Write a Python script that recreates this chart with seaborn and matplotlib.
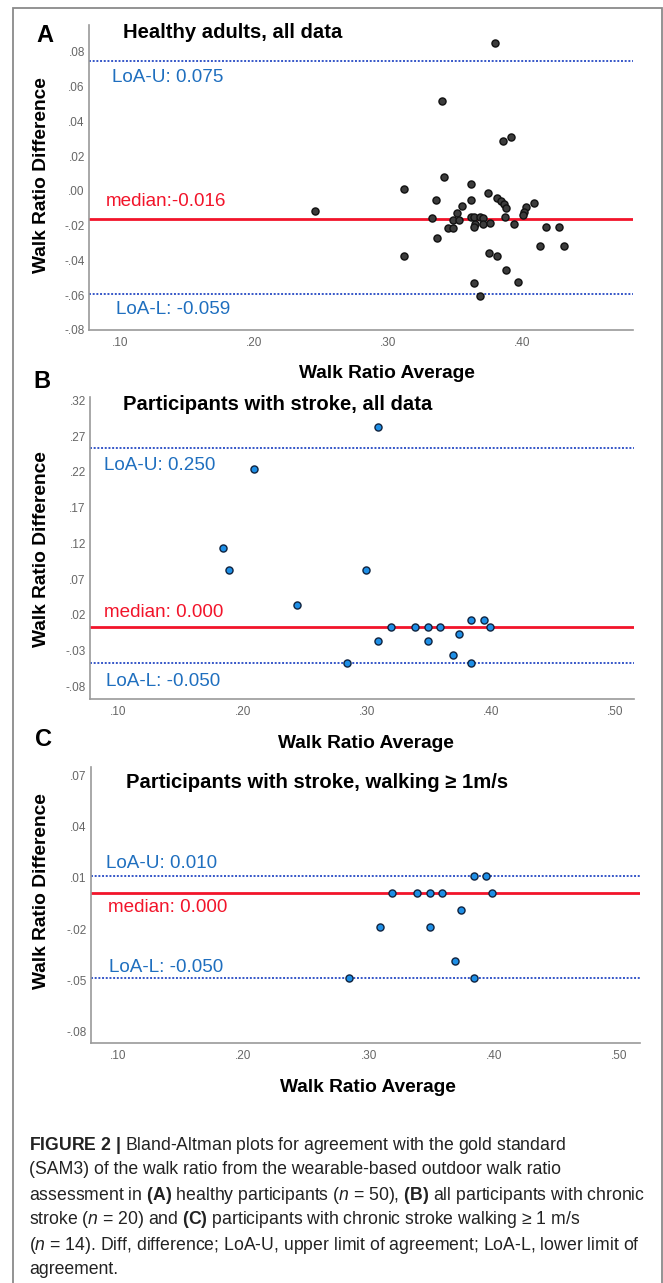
import matplotlib
matplotlib.use("Agg")
import matplotlib.pyplot as plt
from matplotlib.patches import Rectangle
import seaborn as sns

W, H = 663, 1283

# Panel A - healthy adults, all data
a_avg = [0.380, 0.340, 0.386, 0.392, 0.342, 0.312, 0.362, 0.3745, 0.3815, 0.3356,
         0.3621, 0.3843, 0.3868, 0.388, 0.4092, 0.403, 0.4017, 0.4005, 0.245, 0.355,
         0.3518, 0.3326, 0.3485, 0.3526, 0.3618, 0.3643, 0.3688, 0.3706, 0.3873, 0.365,
         0.3638, 0.371, 0.3763, 0.3942, 0.3448, 0.3488, 0.418, 0.428, 0.3368, 0.4135,
         0.4317, 0.312, 0.3755, 0.381, 0.388, 0.3643, 0.3972, 0.3688]
a_diff = [0.085, 0.052, 0.029, 0.031, 0.008, 0.001, 0.004, -0.001, -0.004, -0.005,
          -0.005, -0.006, -0.0075, -0.0099, -0.0071, -0.009, -0.0119, -0.0138, -0.0113, -0.0086,
          -0.0128, -0.0157, -0.0166, -0.0166, -0.0151, -0.0147, -0.0147, -0.0157, -0.0147, -0.0189,
          -0.0205, -0.0189, -0.0182, -0.0191, -0.0214, -0.0214, -0.0205, -0.0205, -0.0272, -0.0314,
          -0.0314, -0.0373, -0.0358, -0.0373, -0.0457, -0.053, -0.0526, -0.0603]
a_loa_u, a_median, a_loa_l = 0.075, -0.016, -0.059
a_yticks = [-0.08, -0.06, -0.04, -0.02, 0.00, 0.02, 0.04, 0.06, 0.08]
a_xticks = [0.10, 0.20, 0.30, 0.40]

# Panel B - participants with stroke, all data
b_avg = [0.309, 0.209, 0.184, 0.189, 0.2995, 0.244, 0.319, 0.339, 0.349, 0.359,
         0.384, 0.394, 0.399, 0.374, 0.309, 0.349, 0.369, 0.284, 0.384]
b_diff = [0.28, 0.22, 0.11, 0.08, 0.08, 0.03, 0.0, 0.0, 0.0, 0.0,
          0.01, 0.01, 0.0, -0.01, -0.02, -0.02, -0.04, -0.05, -0.05]
b_loa_u, b_median, b_loa_l = 0.250, 0.000, -0.050
b_yticks = [-0.0833, -0.0333, 0.0167, 0.0667, 0.1167, 0.1667, 0.2167, 0.2667, 0.3167]
b_xticks = [0.10, 0.20, 0.30, 0.40, 0.50]

# Panel C - participants with stroke walking >= 1 m/s
c_avg = [0.384, 0.394, 0.319, 0.339, 0.349, 0.359, 0.399, 0.374, 0.309, 0.349,
         0.369, 0.284, 0.384]
c_diff = [0.01, 0.01, 0.0, 0.0, 0.0, 0.0, 0.0, -0.01, -0.02, -0.02,
          -0.04, -0.05, -0.05]
c_loa_u, c_median, c_loa_l = 0.010, 0.000, -0.050
c_yticks = [-0.0812, -0.0512, -0.0212, 0.0088, 0.0388, 0.0688]
c_xticks = [0.10, 0.20, 0.30, 0.40, 0.50]

caption_lines = [
    r"$\mathbf{FIGURE\ 2\ |}$ Bland-Altman plots for agreement with the gold standard",
    "(SAM3) of the walk ratio from the wearable-based outdoor walk ratio",
    r"assessment in $\mathbf{(A)}$ healthy participants ($\mathit{n}$ = 50), $\mathbf{(B)}$ all participants with chronic",
    r"stroke ($\mathit{n}$ = 20) and $\mathbf{(C)}$ participants with chronic stroke walking ≥ 1 m/s",
    r"($\mathit{n}$ = 14). Diff, difference; LoA-U, upper limit of agreement; LoA-L, lower limit of",
    "agreement.",
]

sns.set_theme(style="white")
SANS = ["Liberation Sans", "DejaVu Sans"]
plt.rcParams["font.family"] = SANS
plt.rcParams.update({
    "mathtext.fontset": "custom",
    "mathtext.rm": "Liberation Sans",
    "mathtext.bf": "Liberation Sans:bold",
    "mathtext.it": "Liberation Sans:italic",
})

LINE_BLUE = "#3556c8"
TEXT_BLUE = "#1f6fbf"
RED = "#f2142a"

fig = plt.figure(figsize=(W / 100, H / 100), dpi=100)


def ptext(x, y, s, **kw):
    fig.text(x / W, 1 - y / H, s, **kw)


def fmt(v, _=None):
    return f"{v:.2f}".replace("0.", ".")


panels = [
    dict(letter="A", title="Healthy adults, all data", avg=a_avg, diff=a_diff,
         loa=(a_loa_u, a_median, a_loa_l), yticks=a_yticks, xticks=a_xticks,
         box=(89, 633, 25, 330), ylim=(-0.08, 0.0955), xlim=(0.0764, 0.483),
         face="#3c3c3c", edge="#111111",
         letter_xy=(45, 35), title_xy=(123, 33), xlabel_xy=(387, 373), ylabel_xy=(42, 175),
         text_xy=[(112, 77), (106, 201), (116, 309)]),
    dict(letter="B", title="Participants with stroke, all data", avg=b_avg, diff=b_diff,
         loa=(b_loa_u, b_median, b_loa_l), yticks=b_yticks, xticks=b_xticks,
         box=(90, 634, 397, 699), ylim=(-0.101, 0.3213), xlim=(0.0771, 0.515),
         face="#1e8fe6", edge="#10233f",
         letter_xy=(42, 382), title_xy=(123, 405), xlabel_xy=(366, 743), ylabel_xy=(42, 549),
         text_xy=[(104, 466), (104, 613), (106, 681)]),
    dict(letter="C", title="Participants with stroke, walking ≥ 1m/s", avg=c_avg, diff=c_diff,
         loa=(c_loa_u, c_median, c_loa_l), yticks=c_yticks, xticks=c_xticks,
         box=(91, 640, 767, 1043), ylim=(-0.0878, 0.0737), xlim=(0.0781, 0.517),
         face="#1e8fe6", edge="#10233f",
         letter_xy=(44, 739), title_xy=(126, 782), xlabel_xy=(368, 1088), ylabel_xy=(42, 891),
         text_xy=[(106, 864), (108, 907), (109, 967)]),
]

for p in panels:
    l, r, t, b = p["box"]
    ax = fig.add_axes([l / W, 1 - b / H, (r - l) / W, (b - t) / H])
    ax.axhline(p["loa"][0], color=LINE_BLUE, lw=1.4, ls=(0, (1, 0.9)), zorder=1)
    ax.axhline(p["loa"][1], color=RED, lw=2.0, zorder=1)
    ax.axhline(p["loa"][2], color=LINE_BLUE, lw=1.4, ls=(0, (1, 0.9)), zorder=1)
    sns.scatterplot(x=p["avg"], y=p["diff"], ax=ax, s=26, color=p["face"],
                    edgecolor=p["edge"], linewidth=1.0, zorder=3)
    ax.set_xlim(*p["xlim"])
    ax.set_ylim(*p["ylim"])
    ax.set_xticks(p["xticks"])
    ax.set_yticks(p["yticks"])
    ax.xaxis.set_major_formatter(fmt)
    ax.yaxis.set_major_formatter(fmt)
    ax.tick_params(length=0, labelsize=8.5, labelcolor="#666666")
    ax.tick_params(axis="y", pad=3)
    ax.tick_params(axis="x", pad=5)
    for side in ("top", "right"):
        ax.spines[side].set_visible(False)
    for side in ("left", "bottom"):
        ax.spines[side].set_color("#9a9a9a")
        ax.spines[side].set_linewidth(1.2)
    ax.set_xlabel("")
    ax.set_ylabel("")

    u, m, lo = p["loa"]
    (ux, uy), (mx, my), (lx, ly) = p["text_xy"]
    ptext(ux, uy, f"LoA-U: {u:.3f}", color=TEXT_BLUE, fontsize=13.6, va="center", ha="left")
    ptext(mx, my, f"median:{m: .3f}", color=RED, fontsize=13.6, va="center", ha="left")
    ptext(lx, ly, f"LoA-L: {lo:.3f}", color=TEXT_BLUE, fontsize=13.6, va="center", ha="left")

    ptext(*p["letter_xy"], p["letter"], fontweight="bold", fontsize=17,
          va="center", ha="center", color="black")
    ptext(*p["title_xy"], p["title"], fontweight="bold", fontsize=14.6, va="center",
          ha="left", color="black")
    ptext(*p["xlabel_xy"], "Walk Ratio Average", fontweight="bold",
          fontsize=13.8, va="center", ha="center", color="black")
    ptext(*p["ylabel_xy"], "Walk Ratio Difference", fontweight="bold",
          fontsize=13.8, va="center", ha="center", rotation=90, color="black")

for i, line in enumerate(caption_lines):
    ptext(29, 1145 + 25 * i, line, fontsize=12.7, va="center", ha="left", color="#222222")

fig.patches.append(Rectangle((13 / W, -0.01), (662 - 13) / W, 0.01 + 1 - 8 / H,
                             transform=fig.transFigure, fill=False,
                             edgecolor="#8a8a8a", lw=1.3, clip_on=False))

fig.savefig("out.png", dpi=100)
